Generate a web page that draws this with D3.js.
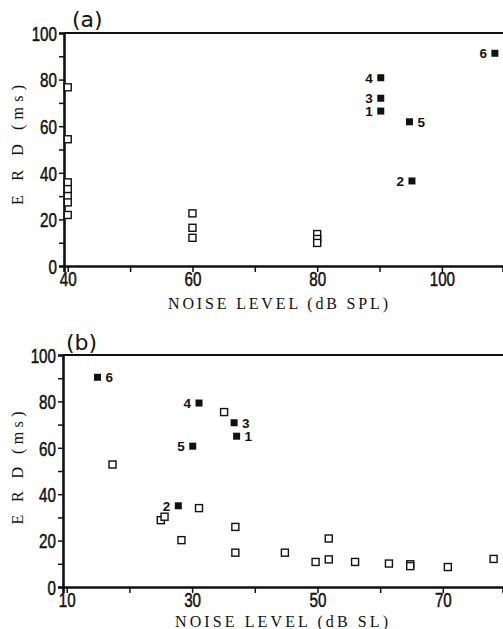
<!DOCTYPE html>
<html>
<head>
<meta charset="utf-8">
<style>
  body { margin: 0; background: #fff; }
  svg { display: block; }
  .tick text { font-family: "Liberation Sans", sans-serif; font-size: 20px; fill: #111; stroke: #111; stroke-width: 0.5px; }
  .axtitle { font-family: "Liberation Serif", serif; font-size: 16px; fill: #111; }
  .num { font-family: "Liberation Sans", sans-serif; font-weight: bold; font-size: 13.5px; fill: #111; }
  .panel { font-family: "DejaVu Sans", sans-serif; font-size: 22px; fill: #111; }
</style>
</head>
<body>
<svg width="503" height="629"></svg>
<script src="https://d3js.org/d3.v7.min.js"></script>
<script>

// ---- data ----
// (a) ERD vs noise level in dB SPL
var aOpenX = [40, 40, 40, 40, 40, 40, 40, 60, 60, 60, 80, 80, 80];
var aOpenY = [76.7, 54.4, 35.9, 33, 30, 27.3, 21.9, 22.6, 16.4, 12.1, 13.7, 11.6, 9.9];
var aFilledId = ["1", "2", "3", "4", "5", "6"];
var aFilledX = [90.2, 95.2, 90.2, 90.2, 94.8, 108.5];
var aFilledY = [66.5, 36.5, 72, 80.8, 61.9, 91.3];

// (b) ERD vs noise level in dB SL
var bOpenX = [17.3, 35.1, 25.0, 25.6, 28.3, 31.1, 36.9, 36.9, 44.8, 49.7, 51.8, 51.8, 56.0, 61.4, 64.8, 64.8, 70.8, 78.1];
var bOpenY = [52.8, 75.4, 28.8, 30.3, 20.2, 34, 25.9, 14.8, 14.8, 10.8, 20.9, 11.9, 10.8, 10.1, 9.8, 9.0, 8.6, 12.1];
var bFilledId = ["1", "2", "3", "4", "5", "6"];
var bFilledX = [37.1, 27.8, 36.7, 31.1, 30.1, 14.9];
var bFilledY = [65, 35, 70.8, 79.3, 60.7, 90.4];

var aXTicks = [40, 60, 80, 100];
var bXTicks = [10, 30, 50, 70];
var yTicks = [0, 20, 40, 60, 80, 100];

// which side the number label goes on (layout only)
var aLabelSide = ["l", "l", "l", "l", "r", "l"];
var bLabelSide = ["r", "l", "r", "l", "l", "r"];

var svg = d3.select("svg");
var squeeze = 0.76;  // tick digits are condensed in the original

function drawPanel(p) {
  var g = svg.append("g");
  var x = d3.scaleLinear().domain(p.xDomain).range([p.left, 503]);
  var y = d3.scaleLinear().domain([0, 100]).range([p.bottom, p.top]);

  var xMinor = d3.range(Math.ceil(p.xDomain[0] / 10) * 10, p.xDomain[1], 10);
  var yMinor = d3.range(0, 101, 10);

  // frame top line
  g.append("line")
      .attr("x1", p.left).attr("x2", 503)
      .attr("y1", p.top).attr("y2", p.top)
      .attr("stroke", "#111").attr("stroke-width", 2);

  var xAxis = g.append("g")
      .attr("transform", "translate(0," + p.bottom + ")")
      .call(d3.axisBottom(x).tickValues(xMinor).tickSize(6).tickPadding(0)
        .tickFormat(function(d) { return p.xTicks.indexOf(d) >= 0 ? d : ""; }));

  var yAxis = g.append("g")
      .attr("transform", "translate(" + p.left + ",0)")
      .call(d3.axisLeft(y).tickValues(yMinor).tickSize(5).tickPadding(2)
        .tickFormat(function(d) { return yTicks.indexOf(d) >= 0 ? d : ""; }));

  [xAxis, yAxis].forEach(function(a) {
    a.select(".domain").attr("stroke", "#111").attr("stroke-width", 2.6);
    a.selectAll(".tick line").attr("stroke", "#111").attr("stroke-width", 1.5);
    a.selectAll(".tick text").attr("transform", "scale(" + squeeze + ",1)");
  });
  yAxis.selectAll(".tick text").attr("dy", "0.36em").attr("x", -7 / squeeze);

  // open squares
  g.selectAll(".open").data(d3.zip(p.openX, p.openY)).enter().append("rect")
      .attr("x", function(d) { return x(d[0]) - 3.5; })
      .attr("y", function(d) { return y(d[1]) - 3.5; })
      .attr("width", 7).attr("height", 7)
      .attr("fill", "#fff").attr("stroke", "#111").attr("stroke-width", 1.4);

  // filled squares with numbers
  var filled = d3.zip(p.fillX, p.fillY, p.ids, p.side);
  g.selectAll(".fill").data(filled).enter().append("rect")
      .attr("x", function(d) { return x(d[0]) - 3.5; })
      .attr("y", function(d) { return y(d[1]) - 3.5; })
      .attr("width", 7).attr("height", 7)
      .attr("fill", "#111");

  g.selectAll(".num").data(filled).enter().append("text")
      .attr("class", "num")
      .attr("x", function(d) { return x(d[0]) + (d[3] == "l" ? -8 : 8); })
      .attr("y", function(d) { return y(d[1]) + 5; })
      .attr("text-anchor", function(d) { return d[3] == "l" ? "end" : "start"; })
      .text(function(d) { return d[2]; });

  // titles
  g.append("text").attr("class", "axtitle")
      .attr("x", p.xTitlePos[0]).attr("y", p.xTitlePos[1])
      .attr("textLength", p.xTitleLen).attr("lengthAdjust", "spacing")
      .text(p.xTitle);

  g.append("text").attr("class", "axtitle")
      .attr("transform", "translate(" + p.yTitlePos[0] + "," + p.yTitlePos[1] + ") rotate(-90)")
      .attr("text-anchor", "middle")
      .attr("textLength", p.yTitleLen).attr("lengthAdjust", "spacing")
      .text("E R D  (ms)");

  g.append("text").attr("class", "panel")
      .attr("x", p.labelPos[0]).attr("y", p.labelPos[1])
      .text(p.label);
}

drawPanel({
  xDomain: [39.4, 109.8], left: 64, top: 33, bottom: 266,
  xTicks: aXTicks, openX: aOpenX, openY: aOpenY,
  fillX: aFilledX, fillY: aFilledY, ids: aFilledId, side: aLabelSide,
  xTitle: "NOISE LEVEL (dB SPL)", xTitlePos: [168, 309], xTitleLen: 220,
  yTitlePos: [23, 145], yTitleLen: 120,
  label: "(a)", labelPos: [72, 27]
});

drawPanel({
  xDomain: [9.4, 79.6], left: 63, top: 355, bottom: 587,
  xTicks: bXTicks, openX: bOpenX, openY: bOpenY,
  fillX: bFilledX, fillY: bFilledY, ids: bFilledId, side: bLabelSide,
  xTitle: "NOISE LEVEL (dB SL)", xTitlePos: [175, 627], xTitleLen: 213,
  yTitlePos: [23, 468], yTitleLen: 113,
  label: "(b)", labelPos: [66, 350]
});

</script>
</body>
</html>
